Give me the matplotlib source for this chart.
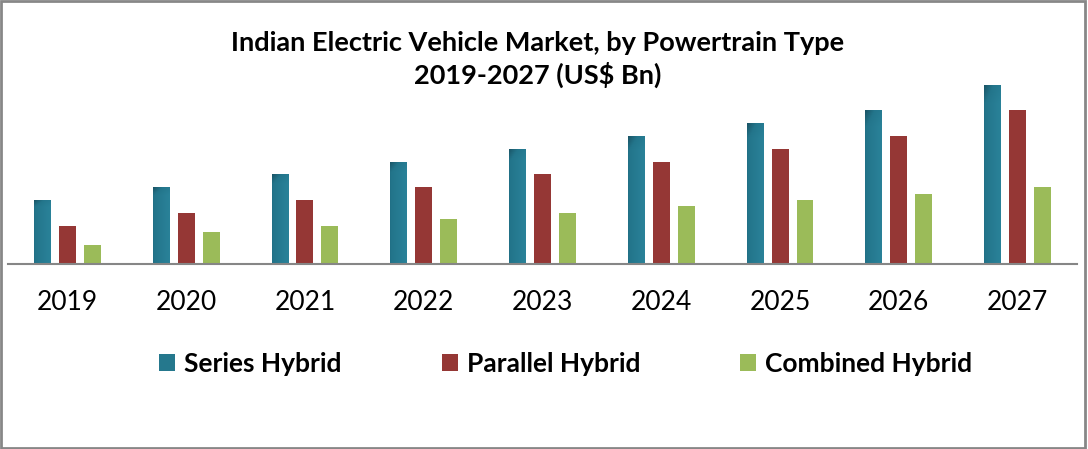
import matplotlib; matplotlib.use("Agg")
import matplotlib.pyplot as plt, numpy as np
from matplotlib.patches import Rectangle
from matplotlib.colors import LinearSegmentedColormap

years = ["2019","2020","2021","2022","2023","2024","2025","2026","2027"]
series = [5, 6, 7, 8, 9, 10, 11, 12, 14]
parallel = [3, 4, 5, 6, 7, 8, 9, 10, 12]
combined = [1.5, 2.5, 3, 3.5, 4, 4.5, 5, 5.5, 6]
labels = ["Series Hybrid", "Parallel Hybrid", "Combined Hybrid"]

c_ser, c_par, c_com = "#25788d", "#953735", "#9bbb59"
plt.rcParams["font.family"] = ["Lato", "DejaVu Sans"]

fig = plt.figure(figsize=(10.88, 4.49), dpi=100)
ax = fig.add_axes([8/1088, 185/449, 1069/1088, 192/449])
x = np.arange(len(years)); w = 0.143; d = 0.21
b1 = ax.bar(x-d, series, w, color=c_ser, label=labels[0], edgecolor="none")
b2 = ax.bar(x, parallel, w, color=c_par, label=labels[1], edgecolor="none")
b3 = ax.bar(x+d, combined, w, color=c_com, label=labels[2], edgecolor="none")

# teal bars get a dark-to-light gradient like the original
cm = LinearSegmentedColormap.from_list("teal", ["#143f4e", "#23758b", "#2a8299"])
gx = np.linspace(0, 1, 40)[None, :]
for b in b1:
    bx, by, bw, bh = b.get_x(), b.get_y(), b.get_width(), b.get_height()
    gy = np.linspace(0, 1, 60)[:, None]
    img = np.clip(0.45 + 0.55*gx - 2.5*(gy - 0.9).clip(0), 0, 1)
    im = ax.imshow(img, cmap=cm, vmin=0, vmax=1, aspect="auto", origin="lower",
                   extent=(bx, bx+bw, by, by+bh), zorder=b.get_zorder()+0.1)
    im.set_clip_path(b)

ax.set_xlim(-0.5, len(years)-0.5); ax.set_ylim(0, 15)
ax.set_xticks(x); ax.set_xticklabels(years, fontsize=19)
ax.tick_params(axis="x", length=0, pad=19)
ax.set_yticks([])
for sp in ("top", "right", "left"): ax.spines[sp].set_visible(False)
ax.spines["bottom"].set_color("#868686"); ax.spines["bottom"].set_linewidth(1.5)

fig.text(0.494, 0.93, "Indian Electric Vehicle Market, by Powertrain Type\n2019-2027 (US$ Bn)",
         ha="center", va="top", fontsize=19.5, fontweight="bold", linespacing=1.3)

fig.legend(handles=[b1, b2, b3], labels=labels, loc="center", bbox_to_anchor=(0.520, 0.19),
           ncol=3, frameon=False, handlelength=0.6, handleheight=0.65,
           handletextpad=0.34, columnspacing=3.8, prop={"weight": "bold", "size": 19})

fig.add_artist(Rectangle((0.001, 0.002), 0.996, 0.996, transform=fig.transFigure,
                         fill=False, edgecolor="#878787", linewidth=2))
fig.savefig("out.png", dpi=100)
